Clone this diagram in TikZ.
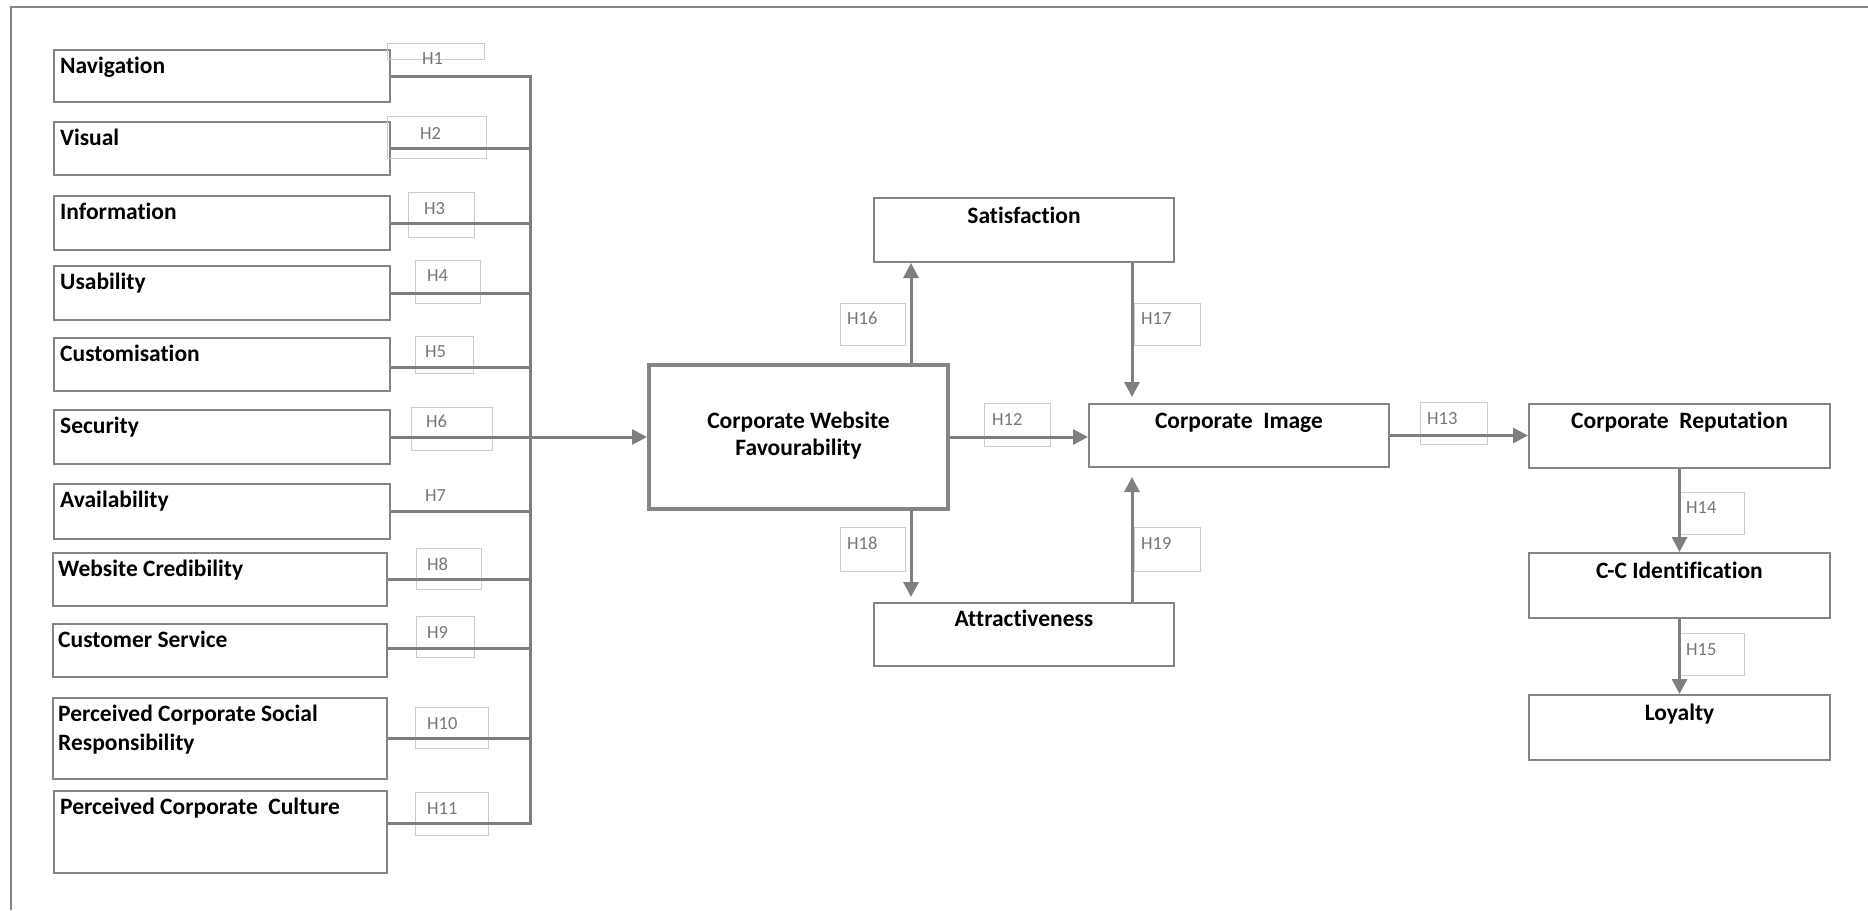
\documentclass[tikz,border=0pt]{standalone}
\usepackage{fontspec}
\setmainfont{Carlito}[Ligatures=NoCommon]
\usetikzlibrary{arrows.meta}

\definecolor{linegray}{HTML}{7F7F7F}
\definecolor{boxgray}{HTML}{858585}
\definecolor{tagline}{HTML}{CCCCCC}
\definecolor{tagink}{HTML}{777777}

\tikzset{
  construct/.style={draw=boxgray, line width=2pt, fill=white, inner sep=0pt, anchor=north west},
  keybox/.style={construct, line width=4pt},
  tagbox/.style={draw=tagline, line width=1pt, inner sep=0pt, anchor=north west},
  ctext/.style={font=\fontsize{23.5}{29}\selectfont\bfseries, inner sep=0pt, text=black},
  tagtext/.style={font=\fontsize{18.5}{21}\selectfont, inner sep=0pt, text=tagink, anchor=north west},
  link/.style={draw=linegray, line width=3pt},
  arrow/.style={link, -{Triangle[length=15pt,width=15pt]}}
}

\begin{document}
\begin{tikzpicture}[x=1pt,y=-1pt]
\useasboundingbox (0,0) rectangle (1868,910);
\fill[white] (0,0) rectangle (1868,910);

% frame
\draw[boxgray, line width=2pt] (10.7,910) -- (10.7,7) -- (1868,7);

% website dimensions
\node[construct, minimum width=336pt, minimum height=52pt] (nav) at (53,49) {};
\node[construct, minimum width=336pt, minimum height=53pt] (vis) at (53,121) {};
\node[construct, minimum width=336pt, minimum height=54pt] (inf) at (53,195) {};
\node[construct, minimum width=336pt, minimum height=54pt] (usa) at (53,265) {};
\node[construct, minimum width=336pt, minimum height=53pt] (cus) at (53,337) {};
\node[construct, minimum width=336pt, minimum height=54pt] (sec) at (53,409) {};
\node[construct, minimum width=336pt, minimum height=55pt] (ava) at (53,483) {};
\node[construct, minimum width=334pt, minimum height=53pt] (wcr) at (52,552) {};
\node[construct, minimum width=334pt, minimum height=53pt] (csv) at (52,623) {};
\node[construct, minimum width=334pt, minimum height=81pt] (pcs) at (52,697) {};
\node[construct, minimum width=333pt, minimum height=82pt] (pcc) at (53,790) {};

% outcome constructs
\node[construct, minimum width=300pt, minimum height=64pt] (sat) at (873,197) {};
\node[keybox, minimum width=299pt, minimum height=144pt] (cwf) at (647,363) {};
\node[construct, minimum width=300pt, minimum height=63pt] (cim) at (1088,403) {};
\node[construct, minimum width=300pt, minimum height=63pt] (att) at (873,602) {};
\node[construct, minimum width=301pt, minimum height=64pt] (crp) at (1528,403) {};
\node[construct, minimum width=301pt, minimum height=65pt] (cci) at (1528,552) {};
\node[construct, minimum width=301pt, minimum height=65pt] (loy) at (1528,694) {};

% hypothesis tag frames
\node[tagbox, minimum width=97pt, minimum height=16pt] (t1) at (387,43) {};
\node[tagbox, minimum width=99pt, minimum height=42pt] (t2) at (387,116) {};
\node[tagbox, minimum width=66pt, minimum height=45pt] (t3) at (408,192) {};
\node[tagbox, minimum width=65pt, minimum height=43pt] (t4) at (415,260) {};
\node[tagbox, minimum width=58pt, minimum height=37pt] (t5) at (415,336) {};
\node[tagbox, minimum width=81pt, minimum height=43pt] (t6) at (411,407) {};
\node[tagbox, minimum width=65pt, minimum height=41pt] (t8) at (416,548) {};
\node[tagbox, minimum width=58pt, minimum height=41pt] (t9) at (416,616) {};
\node[tagbox, minimum width=73pt, minimum height=41pt] (t10) at (415,707) {};
\node[tagbox, minimum width=73pt, minimum height=43pt] (t11) at (415,792) {};
\node[tagbox, minimum width=66pt, minimum height=43pt] (t12) at (984,403) {};
\node[tagbox, minimum width=67pt, minimum height=42pt] (t13) at (1420,402) {};
\node[tagbox, minimum width=65pt, minimum height=42pt] (t14) at (1679,492) {};
\node[tagbox, minimum width=65pt, minimum height=42pt] (t15) at (1679,633) {};
\node[tagbox, minimum width=65pt, minimum height=42pt] (t16) at (840,303) {};
\node[tagbox, minimum width=66pt, minimum height=42pt] (t17) at (1134,303) {};
\node[tagbox, minimum width=65pt, minimum height=44pt] (t18) at (840,527) {};
\node[tagbox, minimum width=66pt, minimum height=44pt] (t19) at (1134,527) {};

% collector bus
\coordinate (bus) at (530,0);
\coordinate (cusout) at ([yshift=-2.5pt]cus.east);
\coordinate (csvout) at ([yshift=2.5pt]csv.east);
\coordinate (pccout) at ([yshift=9pt]pcc.east);
\draw[link, line join=miter] (nav.east) -- (nav.east -| bus) -- (pccout -| bus) -- (pccout);
\draw[link] (vis.east) -- (vis.east -| bus);
\draw[link] (inf.east) -- (inf.east -| bus);
\draw[link] (usa.east) -- (usa.east -| bus);
\draw[link] (cusout) -- (cusout -| bus);
\draw[link] (ava.east) -- (ava.east -| bus);
\draw[link] (wcr.east) -- (wcr.east -| bus);
\draw[link] (csvout) -- (csvout -| bus);
\draw[link] (pcs.east) -- (pcs.east -| bus);
\draw[arrow] (sec.east) -- (sec.east -| cwf.west);

% structural paths
\coordinate (p16) at ([xshift=112.5pt]cwf.north);
\coordinate (p18) at ([xshift=112.5pt]cwf.south);
\coordinate (p17) at ([xshift=108pt]sat.south);
\coordinate (p19) at ([xshift=108pt]att.north);
\draw[arrow] (p16) -- (p16 |- sat.south);
\draw[arrow, shorten >=6pt] (p17) -- (p17 |- cim.north);
\draw[arrow, shorten >=5pt] (p18) -- (p18 |- att.north);
\draw[arrow, shorten >=9pt] (p19) -- (p19 |- cim.south);
\draw[arrow] (cwf.east) -- (cwf.east -| cim.west);
\draw[arrow] (cim.east) -- (cim.east -| crp.west);
\draw[arrow] (crp.south) -- (cci.north);
\draw[arrow] (cci.south) -- (loy.north);

% construct labels
\node[ctext, anchor=base west] (lnav) at ([shift={(7,24.5)}]nav.north west) {Navigation};
\node[ctext, anchor=base west] (lvis) at ([shift={(7,24.5)}]vis.north west) {Visual};
\node[ctext, anchor=base west] (linf) at ([shift={(7,24.5)}]inf.north west) {Information};
\node[ctext, anchor=base west] (lusa) at ([shift={(7,24.5)}]usa.north west) {Usability};
\node[ctext, anchor=base west] (lcus) at ([shift={(7,24.5)}]cus.north west) {Customisation};
\node[ctext, anchor=base west] (lsec) at ([shift={(7,24.5)}]sec.north west) {Security};
\node[ctext, anchor=base west] (lava) at ([shift={(7,24.5)}]ava.north west) {Availability};
\node[ctext, anchor=base west] (lwcr) at ([shift={(6,24.5)}]wcr.north west) {Website Credibility};
\node[ctext, anchor=base west] (lcsv) at ([shift={(6,24.5)}]csv.north west) {Customer Service};
\node[ctext, anchor=base west] (lpcs) at ([shift={(6,24.5)}]pcs.north west) {\parbox[t]{320pt}{Perceived Corporate Social\\Responsibility}};
\node[ctext, anchor=base west] (lpcc) at ([shift={(7,24.5)}]pcc.north west) {Perceived Corporate\ \ Culture};

\node[ctext, anchor=base] (lsat) at ([shift={(0,26)}]sat.north) {Satisfaction};
\node[ctext, anchor=base] (lcwf) at ([shift={(0,65)}]cwf.north) {\parbox[t]{280pt}{\fontsize{23.5}{27}\selectfont\centering Corporate Website\\Favourability}};
\node[ctext, anchor=base] (lcim) at ([shift={(0,25)}]cim.north) {Corporate\ \ Image};
\node[ctext, anchor=base] (latt) at ([shift={(0,24)}]att.north) {Attractiveness};
\node[ctext, anchor=base] (lcrp) at ([shift={(0,25)}]crp.north) {Corporate\ \ Reputation};
\node[ctext, anchor=base] (lcci) at ([shift={(0,26)}]cci.north) {C-C Identification};
\node[ctext, anchor=base] (lloy) at ([shift={(0,26)}]loy.north) {Loyalty};

% hypothesis labels
\node[tagtext] (h1) at (422,52) {H1};
\node[tagtext] (h2) at (420,127) {H2};
\node[tagtext] (h3) at (424,202) {H3};
\node[tagtext] (h4) at (427,269) {H4};
\node[tagtext] (h5) at (425,345) {H5};
\node[tagtext] (h6) at (426,415) {H6};
\node[tagtext] (h7) at (425,489) {H7};
\node[tagtext] (h8) at (427,558) {H8};
\node[tagtext] (h9) at (427,626) {H9};
\node[tagtext] (h10) at (427,717) {H10};
\node[tagtext] (h11) at (427,802) {H11};
\node[tagtext] (h12) at (992,413) {H12};
\node[tagtext] (h13) at (1427,412) {H13};
\node[tagtext] (h14) at (1686,501) {H14};
\node[tagtext] (h15) at (1686,643) {H15};
\node[tagtext] (h16) at (847,312) {H16};
\node[tagtext] (h17) at (1141,312) {H17};
\node[tagtext] (h18) at (847,537) {H18};
\node[tagtext] (h19) at (1141,537) {H19};
\end{tikzpicture}
\end{document}
